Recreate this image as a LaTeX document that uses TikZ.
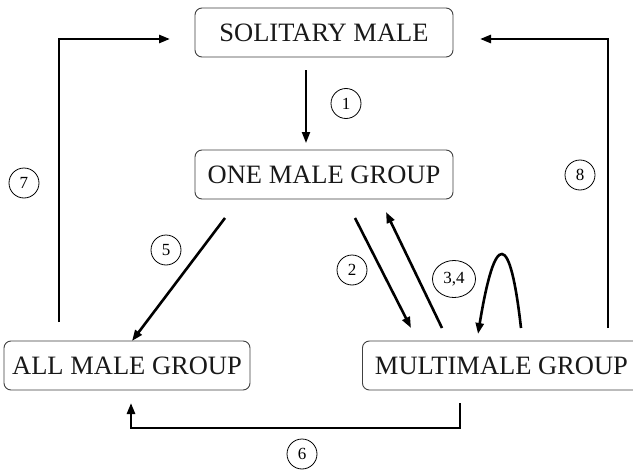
\documentclass[tikz,border=0pt]{standalone}
\usepackage{fontspec}
\setmainfont{Liberation Serif}
\usetikzlibrary{arrows.meta,shapes.geometric}
\begin{document}
\begin{tikzpicture}[x=1pt,y=-1pt,
  statebox/.style={draw=black!75,line width=0.9pt,rounded corners=7pt,minimum height=49pt,inner sep=0pt,
    font=\fontsize{26.5}{28}\selectfont,text=black!90},
  conn/.style={line width=2.6pt,-{Triangle[length=11pt,width=8pt]}},
  lab/.style={draw,circle,line width=0.8pt,minimum size=30pt,inner sep=0pt,font=\fontsize{17}{19}\selectfont},
  labw/.style={draw,ellipse,line width=0.8pt,minimum width=43pt,minimum height=37pt,inner sep=0pt,font=\fontsize{17}{19}\selectfont}]
\clip (0,0) rectangle (633,471);
\fill[white] (0,0) rectangle (633,471);
% boxes
\node[statebox,minimum width=258pt] (sol) at (324,32.5) {SOLITARY MALE};
\node[statebox,minimum width=258pt] (one) at (324,174.5) {ONE MALE GROUP};
\node[statebox,minimum width=246pt] (all) at (127,365.5) {ALL MALE GROUP};
\node[statebox,minimum width=278pt,anchor=west,inner xsep=10pt] (multi) at (362,365.5) {MULTIMALE GROUP};
% labels
\node[lab] (l1) at (346,103.5) {1};
\node[lab] (l2) at (352,270) {2};
\node[labw] (l34) at (454,279) {3,4};
\node[lab] (l5) at (166,250) {5};
\node[lab] (l6) at (302,454) {6};
\node[lab] (l7) at (24,183) {7};
\node[lab] (l8) at (580,175) {8};
% connector endpoints
\coordinate (a1s) at (306,70);  \coordinate (a1e) at (306,143);
\coordinate (a2s) at (355,218); \coordinate (a2e) at (411,328);
\coordinate (a3s) at (442,328); \coordinate (a3e) at (386,212);
\coordinate (a5s) at (225,218); \coordinate (a5e) at (132,341);
\coordinate (a6s) at (460,403); \coordinate (a6m1) at (460,428); \coordinate (a6m2) at (131,428); \coordinate (a6e) at (131,403);
\coordinate (a7s) at (59,322); \coordinate (a7m) at (59,39); \coordinate (a7e) at (170,39);
\coordinate (a8s) at (608,328); \coordinate (a8m) at (608,39); \coordinate (a8e) at (480,39);
\coordinate (lps) at (521,328); \coordinate (lpe) at (478,334);
% connectors
\draw[conn,line width=2pt] (a1s) -- (a1e);
\draw[conn] (a2s) -- (a2e);
\draw[conn] (a3s) -- (a3e);
\draw[conn] (a5s) -- (a5e);
\draw[conn] (a6s) -- (a6m1) -- (a6m2) -- (a6e);
\draw[conn] (a7s) -- (a7m) -- (a7e);
\draw[conn] (a8s) -- (a8m) -- (a8e);
\draw[conn] (lps) .. controls (510,230) and (495,230) .. (lpe);
\end{tikzpicture}
\end{document}
